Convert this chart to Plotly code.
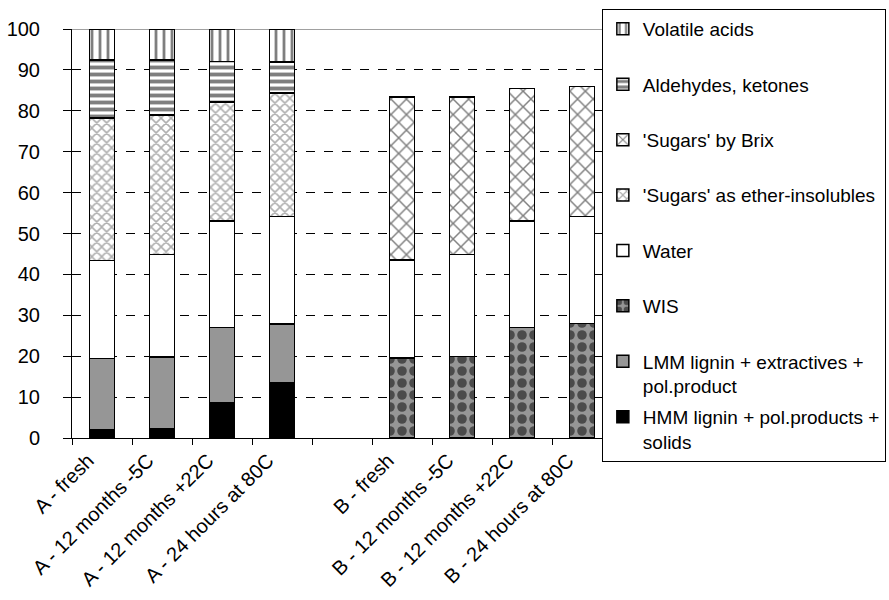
import plotly.graph_objects as go

categories = ["A - fresh", "A - 12 months -5C", "A - 12 months +22C", "A - 24 hours at 80C", " ",
              "B - fresh", "B - 12 months -5C", "B - 12 months +22C", "B - 24 hours at 80C"]

hmm = [2.0, 2.3, 8.7, 13.4, None, 0, 0, 0, 0]
lmm = [17.5, 17.5, 18.3, 14.5, None, 0, 0, 0, 0]
wis = [0, 0, 0, 0, None, 19.6, 19.9, 27.0, 28.0]
water = [23.9, 25.1, 26.0, 26.2, None, 23.9, 25.0, 26.0, 26.2]
sugars_ether = [34.8, 34.1, 29.2, 30.2, None, 0, 0, 0, 0]
sugars_brix = [0, 0, 0, 0, None, 39.9, 38.5, 32.5, 31.8]
aldehydes = [14.2, 13.4, 9.9, 7.6, None, 0, 0, 0, 0]
volatile = [7.6, 7.6, 7.9, 8.1, None, 0, 0, 0, 0]

series = [
    ("HMM lignin + pol.products +<br>solids", hmm, "#000000", dict(shape="")),
    ("LMM lignin + extractives +<br>pol.product", lmm, "#969696", dict(shape="")),
    ("WIS<br> ", wis, "#969696", dict(shape=".", fgcolor="#000000", bgcolor="#969696", size=12, solidity=0.5)),
    ("Water<br> ", water, "#ffffff", dict(shape="")),
    ("'Sugars' as ether-insolubles<br> ", sugars_ether, "#ffffff", dict(shape="x", fgcolor="#606060", bgcolor="#ffffff", size=7, solidity=0.4)),
    ("'Sugars' by Brix<br> ", sugars_brix, "#ffffff", dict(shape="x", fgcolor="#000000", bgcolor="#ffffff", size=11, solidity=0.25)),
    ("Aldehydes, ketones<br> ", aldehydes, "#ffffff", dict(shape="-", fgcolor="#000000", bgcolor="#ffffff", size=7, solidity=0.55)),
    ("Volatile acids<br> ", volatile, "#ffffff", dict(shape="|", fgcolor="#000000", bgcolor="#ffffff", size=8, solidity=0.35)),
]

n = len(series)
fig = go.Figure()
for i, (name, vals, color, pat) in enumerate(series):
    fig.add_trace(go.Bar(
        name=name, x=categories, y=vals,
        marker=dict(color=color, line=dict(color="#000000", width=1.5), pattern=pat),
        legendgroup=f"g{i}", legendrank=n - i, width=0.42,
    ))

fig.update_layout(
    barmode="stack",
    width=889, height=600,
    margin=dict(l=72, r=277, t=29, b=162, autoexpand=False),
    paper_bgcolor="#ffffff", plot_bgcolor="#ffffff",
    font=dict(family="Liberation Sans, Arial", color="#000000"),
    showlegend=True,
    legend=dict(
        traceorder="grouped", tracegroupgap=3, valign="top",
        xref="container", yref="container",
        x=0.677, y=0.985, xanchor="left", yanchor="top",
        bordercolor="#000000", borderwidth=1, bgcolor="#ffffff",
        font=dict(size=19, family="Liberation Sans, Arial"),
        itemwidth=30, maxheight=560,
    ),
    xaxis=dict(
        type="category", range=[-0.5, 8.5], automargin=False,
        showline=True, linecolor="#000000", linewidth=1,
        ticks="outside", ticklen=6, tickcolor="#000000", tickson="boundaries",
        tickangle=-45, tickfont=dict(size=20), ticklabelstandoff=2, ticklabelshift=-14,
        showgrid=False,
    ),
    yaxis=dict(
        range=[0, 100], tickmode="array", tickvals=list(range(0, 101, 10)),
        automargin=False,
        showline=True, linecolor="#000000", linewidth=1,
        ticks="outside", ticklen=8, tickcolor="#000000",
        ticklabelstandoff=19,
        tickfont=dict(size=20),
        showgrid=True, gridcolor="#000000", griddash="dash", gridwidth=1,
        zeroline=False,
    ),
    shapes=[dict(type="line", xref="paper", yref="y", x0=0, x1=1, y0=100, y1=100,
                 line=dict(color="#808080", width=1.5), layer="below")],
)

fig.write_html("out.html", config={"displayModeBar": False},
               post_script="document.body.style.margin='0';")
